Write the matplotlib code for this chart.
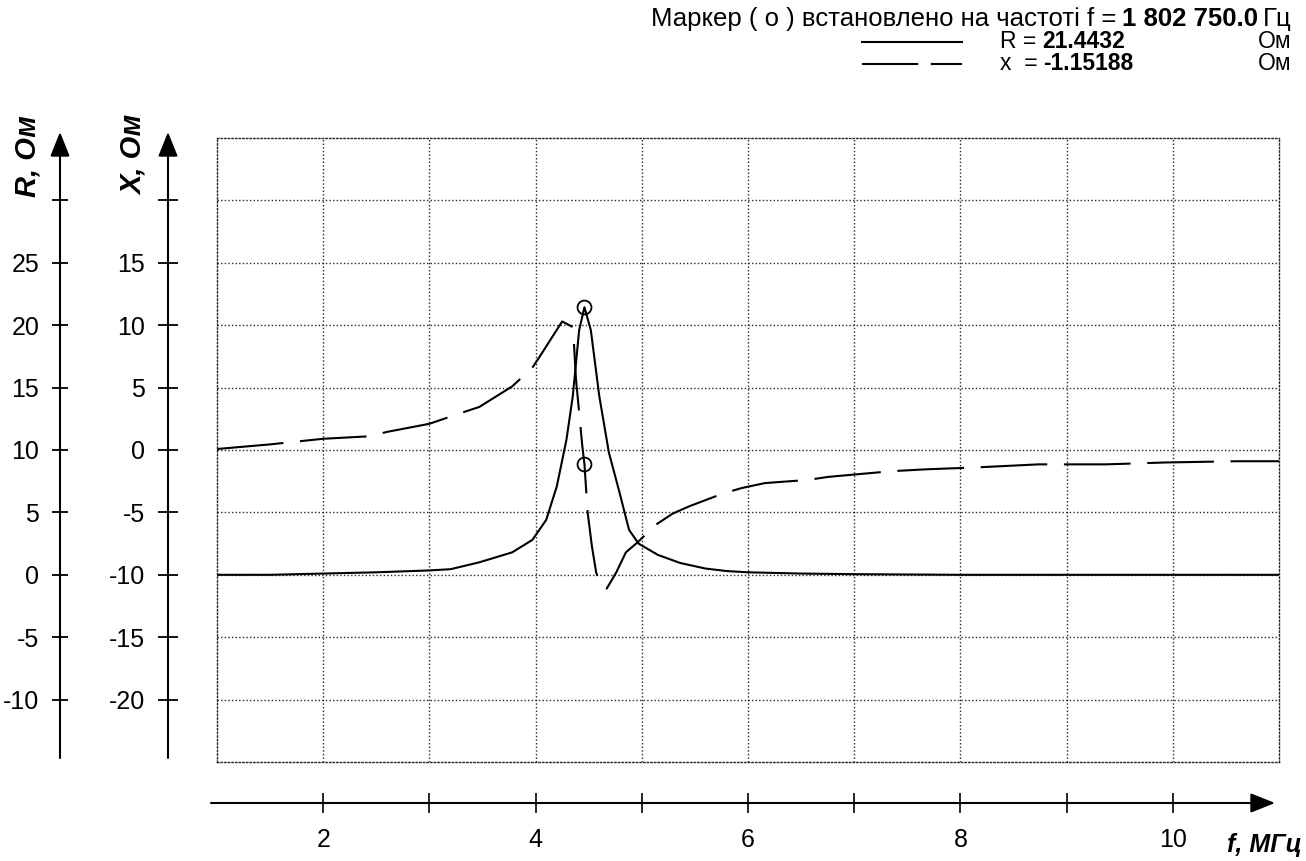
import numpy as np
import matplotlib
matplotlib.use('Agg')
import matplotlib.pyplot as plt
from matplotlib.lines import Line2D

plt.rcParams['font.family'] = ['Liberation Sans', 'DejaVu Sans']

# ---------------------------------------------------------------------------
# data (f in MHz, R and X in Ohm)
# ---------------------------------------------------------------------------
f_R = [1.0, 1.5, 2.0, 2.5, 3.0, 3.2, 3.47, 3.78, 3.97, 4.1, 4.2, 4.29, 4.35,
       4.41, 4.46, 4.52, 4.6, 4.69, 4.79, 4.88, 4.97, 5.15, 5.36, 5.6, 5.8,
       6.0, 6.5, 7.0, 8.0, 9.0, 10.0, 11.0]
R_vals = [0.0, 0.0, 0.1, 0.2, 0.35, 0.45, 1.0, 1.8, 2.8, 4.4, 7.1, 10.8, 14.3,
          19.6, 21.44, 19.6, 14.3, 9.8, 6.6, 3.6, 2.5, 1.6, 0.95, 0.5, 0.3,
          0.2, 0.1, 0.05, 0.0, 0.0, 0.0, 0.0]

f_X = [1.0, 1.5, 2.0, 2.44, 2.6, 3.0, 3.31, 3.47, 3.78, 3.97, 4.04, 4.13,
       4.25, 4.34, 4.36, 4.38, 4.41, 4.44, 4.46, 4.49, 4.53, 4.57, 4.62, 4.67,
       4.76, 4.85, 4.96, 5.13, 5.29, 5.45, 5.76, 5.94, 6.16, 6.56, 6.76, 7.35,
       7.67, 8.14, 8.74, 9.37, 9.93, 10.6, 11.0]
X_vals = [0.08, 0.45, 0.9, 1.1, 1.45, 2.1, 3.0, 3.45, 5.1, 6.6, 7.5, 8.7,
          10.3, 9.9, 8.7, 5.7, 3.0, 0.3, -1.15, -5.0, -7.7, -9.8, -11.0, -11.1,
          -9.8, -8.2, -7.4, -6.0, -5.1, -4.5, -3.5, -3.05, -2.65, -2.4, -2.15,
          -1.7, -1.55, -1.4, -1.15, -1.15, -1.0, -0.9, -0.9]

marker_f = 4.46
marker_R = 21.4432
marker_X = -1.15188
marker_freq_text = '1 802 750.0'

R_ticks = [-10, -5, 0, 5, 10, 15, 20, 25, 30]
R_ticklabels = ['-10', '-5', '0', '5', '10', '15', '20', '25', '']
X_ticks = [-20, -15, -10, -5, 0, 5, 10, 15, 20]
X_ticklabels = ['-20', '-15', '-10', '-5', '0', '5', '10', '15', '']
f_ticks = [2, 3, 4, 5, 6, 7, 8, 9, 10]
f_ticklabels = ['2', '', '4', '', '6', '', '8', '', '10']

R_offset = 10  # R scale is the X scale shifted by 10 Ohm

# ---------------------------------------------------------------------------
W, H = 1306, 861
fig = plt.figure(figsize=(W / 100, H / 100), dpi=100)


def px(x, y):
    return x / W, 1 - y / H


ax_l, ax_r, ax_t, ax_b = 217, 1279, 138, 762
ax = fig.add_axes([ax_l / W, 1 - ax_b / H, (ax_r - ax_l) / W, (ax_b - ax_t) / H])
ax.set_xlim(1, 11)
ax.set_ylim(-25, 25)

dot = (0, (1, 1.6))
ax.set_xticks(np.arange(2, 11))
ax.set_yticks(np.arange(-20, 21, 5))
ax.tick_params(length=0, labelbottom=False, labelleft=False)
ax.grid(True, color='0.15', ls=dot, lw=1.0)
for sp in ax.spines.values():
    sp.set_linestyle(dot)
    sp.set_linewidth(1.0)
    sp.set_color('0.15')

# curves
ax.plot(f_R, np.array(R_vals) - R_offset, color='k', lw=1.5)
ax.plot(f_X, X_vals, color='k', lw=1.5, dashes=(32, 8))
ax.plot([marker_f], [marker_R - R_offset], 'o', mfc='none', mec='k', ms=10, mew=1.3)
ax.plot([marker_f], [marker_X], 'o', mfc='none', mec='k', ms=10, mew=1.3)

# ---------------------------------------------------------------------------
# separate axes with arrows
# ---------------------------------------------------------------------------
span = ax_r - ax_l
hgt = ax_b - ax_t
arrow = dict(arrowstyle='-|>,head_length=0.75,head_width=0.3', color='k',
             lw=1.5, shrinkA=0, shrinkB=0, mutation_scale=20)

locR = (60 - ax_l) / span
locX = (168 - ax_l) / span
locB = (ax_b - 803) / hgt
tick_fs = 18

secR = ax.secondary_yaxis(locR, functions=(lambda y: y + R_offset, lambda r: r - R_offset))
secR.set_yticks(R_ticks)
secR.set_yticklabels(R_ticklabels)
secR.tick_params(direction='inout', length=12, width=1.3, pad=9, labelsize=tick_fs)
secR.spines['left'].set_visible(False)

secX = ax.secondary_yaxis(locX)
secX.set_yticks(X_ticks)
secX.set_yticklabels(X_ticklabels)
secX.tick_params(direction='inout', length=15, width=1.3, pad=9, labelsize=tick_fs)
secX.spines['left'].set_visible(False)

secB = ax.secondary_xaxis(locB)
secB.set_xticks(f_ticks)
secB.set_xticklabels(f_ticklabels)
secB.tick_params(direction='inout', length=14, width=1.2, pad=11, labelsize=tick_fs)
secB.spines['bottom'].set_visible(False)

y_lo = (ax_b - 758) / hgt
y_tip = (ax_b - 132) / hgt
for loc in (locR, locX):
    ax.annotate('', xy=(loc, y_tip), xytext=(loc, y_lo), xycoords='axes fraction',
                arrowprops=arrow, annotation_clip=False)
ax.annotate('', xy=((1275 - ax_l) / span, locB), xytext=((211 - ax_l) / span, locB),
            xycoords='axes fraction', arrowprops=arrow, annotation_clip=False)

# axis titles
lab = dict(fontweight='bold', style='italic', va='center')
fig.text(*px(27, 156), 'R, Ом', rotation=90, fontsize=21, ha='center', **lab)
fig.text(*px(134, 155), 'X, Ом', rotation=90, fontsize=21, ha='center', **lab)
fig.text(*px(1302, 845), 'f, МГц', fontsize=18, ha='right', **lab)

# ---------------------------------------------------------------------------
# marker read-out in the top right corner
# ---------------------------------------------------------------------------
fs_head = 18.5
fs_row = 16.5
t_unit = fig.text(*px(1292, 19), 'Гц', fontsize=fs_head, ha='right', va='center')
t_val = ax.annotate(marker_freq_text, xy=(0, 0), xycoords=t_unit, xytext=(-4, 0),
                    textcoords='offset points', ha='right', va='bottom',
                    fontsize=fs_head, fontweight='bold', annotation_clip=False)
ax.annotate('Маркер ( о ) встановлено на частоті f =', xy=(0, 0), xycoords=t_val,
            xytext=(-4, 0), textcoords='offset points', ha='right', va='bottom',
            fontsize=fs_head, annotation_clip=False)

for yy, name, val, dsh in ((42, 'R =', f'{marker_R:.4f}', None),
                           (64, 'x  =', f'{marker_X:.5f}', (27, 6))):
    t_n = fig.text(*px(1000, yy), name, fontsize=fs_row, ha='left', va='center')
    ax.annotate(val, xy=(1, 0), xycoords=t_n, xytext=(4, 0),
                textcoords='offset points', ha='left', va='bottom',
                fontsize=fs_row, fontweight='bold', annotation_clip=False)
    fig.text(*px(1258, yy), 'Ом', fontsize=fs_row, ha='left', va='center')
    ln = Line2D([862 / W, 962 / W], [1 - yy / H] * 2, color='k', lw=1.5,
                transform=fig.transFigure)
    if dsh:
        ln.set_dashes(dsh)
    fig.add_artist(ln)

fig.savefig('out.png', dpi=100)
